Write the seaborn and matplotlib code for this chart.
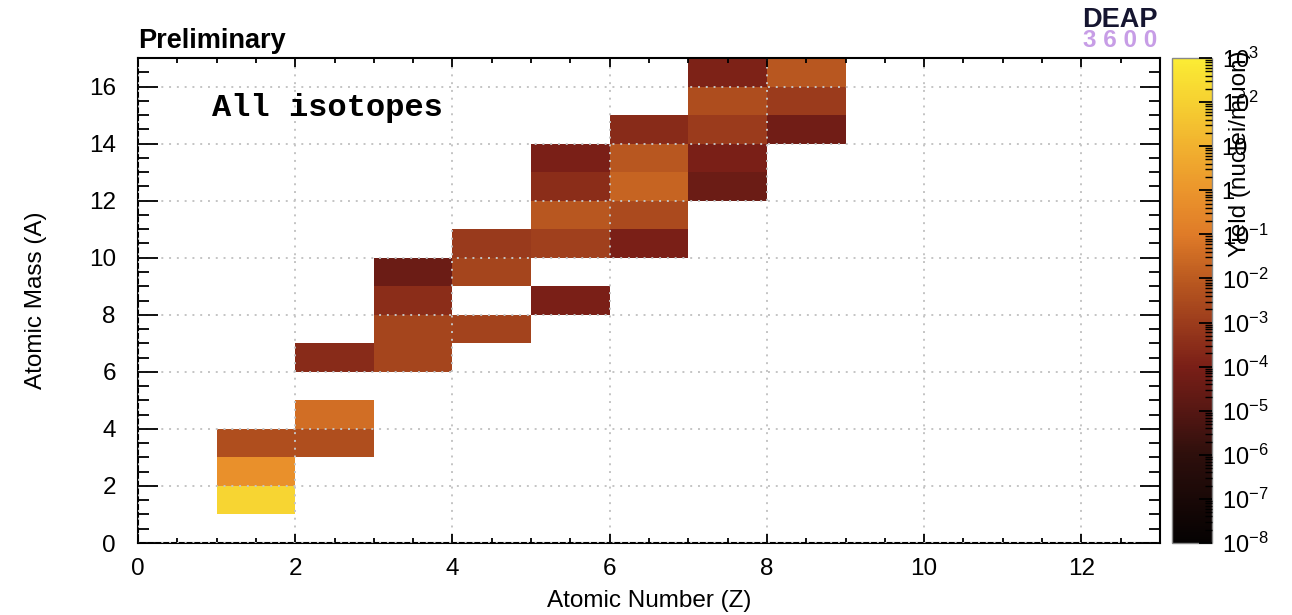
import numpy as np
import pandas as pd
import matplotlib
matplotlib.use("Agg")
import matplotlib.pyplot as plt
import seaborn as sns
from matplotlib.colors import LogNorm, LinearSegmentedColormap
from matplotlib.ticker import MultipleLocator, LogLocator, FuncFormatter, NullFormatter

# ---- data ----
Z_vals = [1, 1, 1, 2, 2, 2, 3, 3, 3, 3, 4, 4, 4, 5, 5, 5, 5, 5,
          6, 6, 6, 6, 6, 7, 7, 7, 7, 7, 8, 8, 8]
A_vals = [1, 2, 3, 3, 4, 6, 6, 7, 8, 9, 7, 9, 10, 8, 10, 11, 12, 13,
          10, 11, 12, 13, 14, 12, 13, 14, 15, 16, 14, 15, 16]
yields = [150, 0.6, 4e-3, 4e-3, 4e-2, 2.5e-4, 2e-3, 2e-3, 3e-4, 4e-5,
          1.6e-3, 2e-3, 8e-4, 1e-4, 1.3e-3, 8e-3, 3e-4, 1e-4,
          1e-4, 3e-3, 2e-2, 8e-3, 2.5e-4, 4e-5, 1e-4, 9e-4, 3.5e-3, 1.3e-4,
          6e-5, 9e-4, 8e-3]
z_bins = list(range(0, 13))
a_bins = list(range(0, 17))
cbar_ticks = [1e-8, 1e-7, 1e-6, 1e-5, 1e-4, 1e-3, 1e-2, 1e-1, 1, 10, 1e2, 1e3]

df = pd.DataFrame({"Z": Z_vals, "A": A_vals, "Y": yields})
grid = (df.pivot(index="A", columns="Z", values="Y")
          .reindex(index=a_bins, columns=z_bins))

# ---- colormap (black -> dark red -> orange -> yellow) ----
stops = [(0.0, "#050202"), (2/11, "#2e0f0c"), (3/11, "#561713"), (4/11, "#7a1f17"),
         (5/11, "#9c3c1c"), (6/11, "#bb5a20"), (7/11, "#df7b28"), (8/11, "#eb952c"),
         (9/11, "#f1b12f"), (10/11, "#f6d031"), (1.0, "#fbec34")]
cmap = LinearSegmentedColormap.from_list("deap", stops)

sns.set_theme(style="white")
plt.rcParams["font.family"] = ["Liberation Sans", "DejaVu Sans"]
plt.rcParams["mathtext.default"] = "regular"
plt.rcParams["text.color"] = "black"
plt.rcParams["axes.labelcolor"] = "black"
plt.rcParams["xtick.color"] = "black"
plt.rcParams["ytick.color"] = "black"
plt.rcParams["axes.axisbelow"] = False

fig = plt.figure(figsize=(12.92, 6.15), dpi=100)
ax = fig.add_axes([138/1292, 1-543/615, (1160-138)/1292, (543-58)/615])
cax = fig.add_axes([1172/1292, 1-543/615, 40/1292, (543-58)/615])

sns.heatmap(grid, ax=ax, cbar_ax=cax, cmap=cmap,
            norm=LogNorm(vmin=1e-8, vmax=1e3), linewidths=0,
            xticklabels=False, yticklabels=False)

ax.set_xlim(0, 13)
ax.set_ylim(0, 17)
for s in ax.spines.values():
    s.set_visible(True)
    s.set_color("black")
    s.set_linewidth(1.5)

ax.xaxis.set_major_locator(MultipleLocator(2))
ax.xaxis.set_minor_locator(MultipleLocator(0.5))
ax.yaxis.set_major_locator(MultipleLocator(2))
ax.yaxis.set_minor_locator(MultipleLocator(0.5))
ax.xaxis.set_major_formatter(FuncFormatter(lambda v, p: f"{v:g}"))
ax.yaxis.set_major_formatter(FuncFormatter(lambda v, p: f"{v:g}"))
ax.tick_params(axis="both", which="both", direction="in", top=True, right=True,
               bottom=True, left=True, colors="black", width=1.3, labelsize=17.5)
ax.tick_params(axis="x", which="major", length=6.5, pad=11)
ax.tick_params(axis="x", which="minor", length=3.6)
ax.tick_params(axis="y", which="major", length=14.5, pad=16)
ax.tick_params(axis="y", which="minor", length=8)
for lbl in ax.get_xticklabels() + ax.get_yticklabels():
    lbl.set_rotation(0)

ax.set_axisbelow(False)
ax.grid(True, which="major", color="#c4c4c4", linestyle=(0, (1, 3)), linewidth=1.4)

ax.set_xlabel("Atomic Number (Z)", fontsize=17.5, labelpad=7)
ax.set_ylabel("Atomic Mass (A)", fontsize=17.5, labelpad=30)

ax.text(0.94, 14.95, "All isotopes", fontsize=23, fontweight="bold",
        family=["Liberation Mono", "DejaVu Sans Mono"], va="baseline", ha="left")

# colorbar
cb = ax.collections[0].colorbar
cb.outline.set_edgecolor("#888888")
cb.outline.set_linewidth(1.0)
cax.set_axisbelow(False)
cax.yaxis.set_ticks_position("right")
cax.yaxis.set_major_locator(LogLocator(base=10, numticks=20))
cax.yaxis.set_minor_locator(LogLocator(base=10, subs=np.arange(2, 10), numticks=20))

def fmt(v, p):
    e = int(round(np.log10(v)))
    if e == 0:
        return "1"
    if e == 1:
        return "10"
    return r"$10^{%d}$" % e

cax.yaxis.set_major_formatter(FuncFormatter(fmt))
cax.yaxis.set_minor_formatter(NullFormatter())
cax.set_yticks(cbar_ticks)
cax.tick_params(axis="y", which="both", right=True, left=False, direction="in",
                colors="black")
cax.tick_params(axis="y", which="major", length=9.5, width=1.3,
                labelsize=17, pad=7)
cax.tick_params(axis="y", which="minor", length=5, width=1.0)

fig.text(1240/1292, 1-50/615, "Yield (nuclei/muon)", rotation=90, fontsize=17.5,
         ha="center", va="top")

fig.text(138/1292, 1-48/615, "Preliminary", fontsize=19.5, fontweight="bold",
         ha="left", va="baseline")
fig.text(1120/1292, 1-27/615, "DEAP", fontsize=19.5, fontweight="bold",
         color="#151530", ha="center", va="baseline")
fig.text(1120/1292, 1-47/615, "3 6 0 0", fontsize=17.5, fontweight="bold",
         color="#c79de6", ha="center", va="baseline")

fig.savefig("out.png", dpi=100, facecolor="white")
